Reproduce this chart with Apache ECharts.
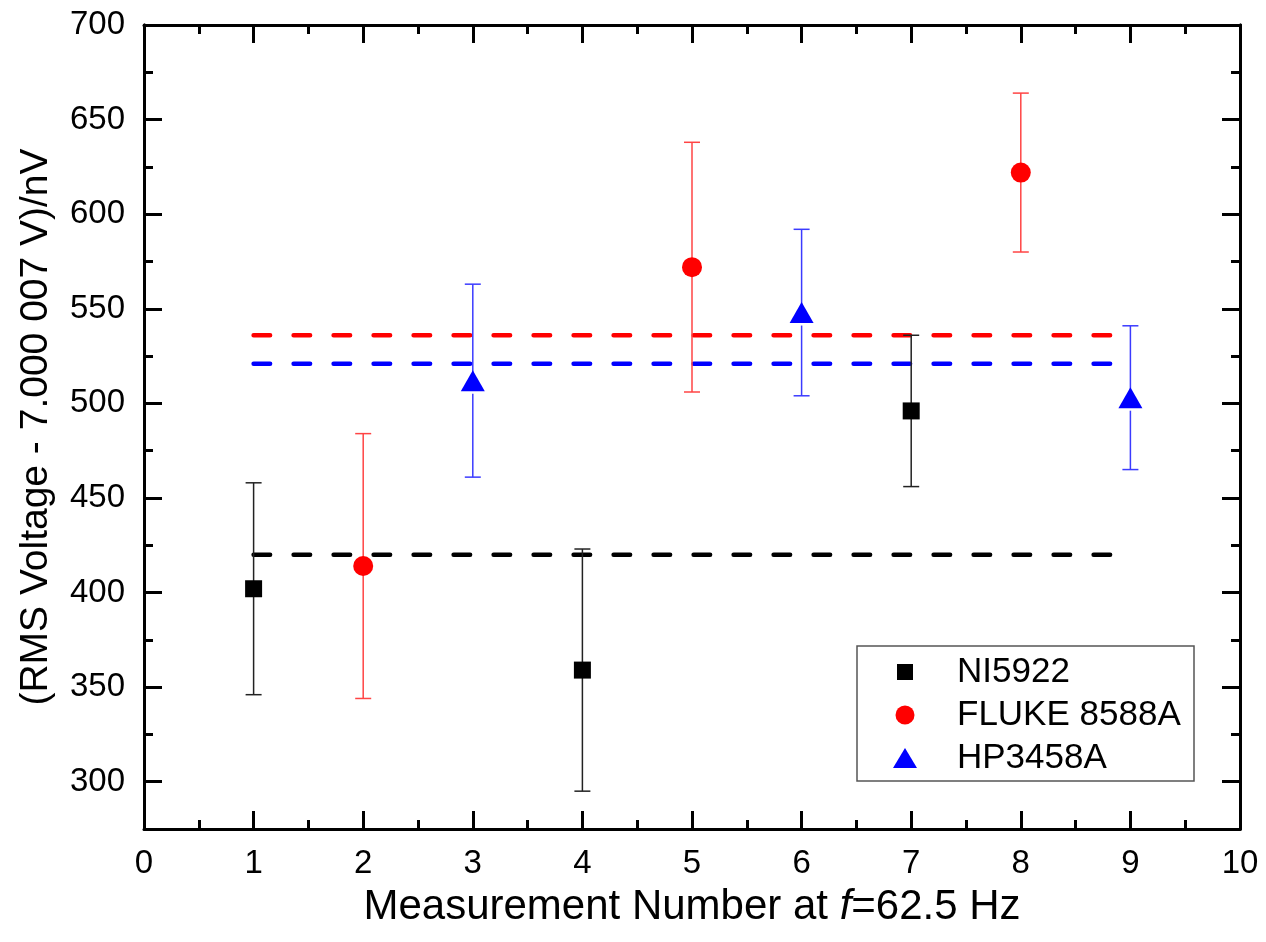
<!DOCTYPE html>
<html>
<head>
<meta charset="utf-8">
<script src="https://cdn.jsdelivr.net/npm/echarts@6/dist/echarts.min.js"></script>
<style>
html,body{margin:0;padding:0;background:#fff;}
#chart{width:1266px;height:942px;}
</style>
</head>
<body>
<div id="chart"></div>
<script>
// ---- data ----
const niX = [1, 4, 7];
const niY = [402, 359, 496];
const niErr = [56, 64, 40];

const flukeX = [2, 5, 8];
const flukeY = [414, 572, 622];
const flukeErr = [70, 66, 42];

const hpX = [3, 6, 9];
const hpY = [512, 548, 503];
const hpErr = [51, 44, 38];

const niMean = 420;
const flukeMean = 536;
const hpMean = 521;
const meanRange = [1, 9];

const yMajorTicks = [300, 350, 400, 450, 500, 550, 600, 650, 700];
const yMinorTicks = [325, 375, 425, 475, 525, 575, 625, 675];

const seriesNames = ['NI5922', 'FLUKE 8588A', 'HP3458A'];
const xTitle = 'Measurement Number at {i|f}=62.5 Hz';
const yTitle = '(RMS Voltage - 7.000 007 V)/nV';

// ---- helpers ----
const FONT = 'Liberation Sans, Arial, sans-serif';
const pts = (xs, ys) => xs.map((x, i) => [x, ys[i]]);
const errs = (xs, ys, es) => xs.map((x, i) => [x, ys[i], es[i]]);

function errRender(gapBelow) {
  return function (params, api) {
    const x = api.value(0), y = api.value(1), e = api.value(2);
    const top = api.coord([x, y + e]);
    const bot = api.coord([x, y - e]);
    const c = api.coord([x, y]);
    const color = api.visual('color');
    const st = { stroke: color, lineWidth: 1.5 };
    const cw = 8;
    return {
      type: 'group',
      children: [
        { type: 'line', shape: { x1: top[0], y1: top[1], x2: c[0], y2: c[1] }, style: st },
        { type: 'line', shape: { x1: c[0], y1: c[1] + gapBelow, x2: bot[0], y2: bot[1] }, style: st },
        { type: 'line', shape: { x1: top[0] - cw, y1: top[1], x2: top[0] + cw, y2: top[1] }, style: st },
        { type: 'line', shape: { x1: bot[0] - cw, y1: bot[1], x2: bot[0] + cw, y2: bot[1] }, style: st }
      ]
    };
  };
}

function meanLine(name, v, color) {
  return {
    name: name, type: 'line', symbol: 'none', silent: true, z: 3,
    data: meanRange.map(x => [x, v]),
    lineStyle: { color: color, width: 4.5, type: [16.5, 23.5], cap: 'round' }
  };
}

const axisLineStyle = { color: '#000', width: 3 };
const xAxisBase = {
  type: 'value', min: 0, max: 10, interval: 1,
  axisLine: { show: true, lineStyle: axisLineStyle },
  axisTick: { show: true, inside: true, length: 18, lineStyle: { color: '#000', width: 3 } },
  minorTick: { show: true, splitNumber: 2, length: 9, lineStyle: { color: '#000', width: 3 } },
  splitLine: { show: false },
  minorSplitLine: { show: false }
};

function yAxisDef(pos, ticks, len, withLabels) {
  const a = {
    type: 'value', min: 275, max: 700, position: pos,
    axisLine: { show: true, lineStyle: axisLineStyle },
    axisTick: { show: true, inside: true, length: len, customValues: ticks, lineStyle: { color: '#000', width: 3 } },
    axisLabel: withLabels ? { show: true, customValues: ticks, fontSize: 33, color: '#000', fontFamily: FONT, margin: 19 } : { show: false },
    splitLine: { show: false }
  };
  return a;
}

const yMain = yAxisDef('left', yMajorTicks, 18, true);
yMain.name = yTitle;
yMain.nameLocation = 'middle';
yMain.nameGap = 88;
yMain.nameTextStyle = { fontSize: 39, color: '#000', fontFamily: FONT };

const chart = echarts.init(document.getElementById('chart'), null, { renderer: 'canvas' });

const legendCommon = {
  orient: 'horizontal', padding: 0, itemWidth: 94, symbolKeepAspect: true,
  textStyle: { fontSize: 35, color: '#000', fontFamily: FONT, lineHeight: 36 },
  selectedMode: false
};

chart.setOption({
  backgroundColor: '#fff',
  animation: false,
  grid: { left: 144, right: 26, top: 25, bottom: 113, containLabel: false },
  xAxis: [
    Object.assign({}, xAxisBase, {
      position: 'bottom',
      axisLabel: { show: true, fontSize: 33, color: '#000', fontFamily: FONT, margin: 18 },
      name: xTitle, nameLocation: 'middle', nameGap: 57,
      nameTextStyle: {
        fontSize: 42, color: '#000', fontFamily: FONT,
        rich: { i: { fontSize: 42, fontStyle: 'italic', color: '#000', fontFamily: FONT } }
      }
    }),
    Object.assign({}, xAxisBase, { position: 'top', axisLabel: { show: false } })
  ],
  yAxis: [
    yMain,
    yAxisDef('left', yMinorTicks, 9, false),
    yAxisDef('right', yMajorTicks, 18, false),
    yAxisDef('right', yMinorTicks, 9, false)
  ],
  legend: [
    Object.assign({}, legendCommon, { data: [{ name: seriesNames[0], icon: 'path://M0,0H1V1H0Z' }], left: 897, top: 654, itemHeight: 16 }),
    Object.assign({}, legendCommon, { data: [{ name: seriesNames[1], icon: 'circle' }], left: 895.5, top: 697, itemHeight: 19 }),
    Object.assign({}, legendCommon, { data: [{ name: seriesNames[2], icon: 'path://M12,0L24,20L0,20Z' }], left: 893, top: 740, itemHeight: 20 })
  ],
  graphic: [
    { type: 'rect', shape: { x: 857, y: 646, width: 337, height: 135 }, style: { fill: 'none', stroke: '#555', lineWidth: 1.5 }, z: 100 }
  ],
  series: [
    meanLine('NI mean', niMean, '#000'),
    meanLine('FLUKE mean', flukeMean, '#ff0000'),
    meanLine('HP mean', hpMean, '#0000ff'),
    { name: 'NI err', type: 'custom', renderItem: errRender(0), data: errs(niX, niY, niErr), encode: { x: 0, y: 1 }, itemStyle: { color: '#222' }, z: 4, silent: true },
    { name: 'FLUKE err', type: 'custom', renderItem: errRender(0), data: errs(flukeX, flukeY, flukeErr), encode: { x: 0, y: 1 }, itemStyle: { color: '#ff4444' }, z: 4, silent: true },
    { name: 'HP err', type: 'custom', renderItem: errRender(13), data: errs(hpX, hpY, hpErr), encode: { x: 0, y: 1 }, itemStyle: { color: '#3b3bff' }, z: 4, silent: true },
    { name: seriesNames[0], type: 'scatter', symbol: 'rect', symbolSize: 17, data: pts(niX, niY), itemStyle: { color: '#000', opacity: 1 }, z: 5 },
    { name: seriesNames[1], type: 'scatter', symbol: 'circle', symbolSize: 20, data: pts(flukeX, flukeY), itemStyle: { color: '#ff0000', opacity: 1 }, z: 5 },
    { name: seriesNames[2], type: 'scatter', symbol: 'triangle', symbolSize: [24, 21], data: pts(hpX, hpY), itemStyle: { color: '#0000ff', opacity: 1 }, z: 5 }
  ]
});
</script>
</body>
</html>
